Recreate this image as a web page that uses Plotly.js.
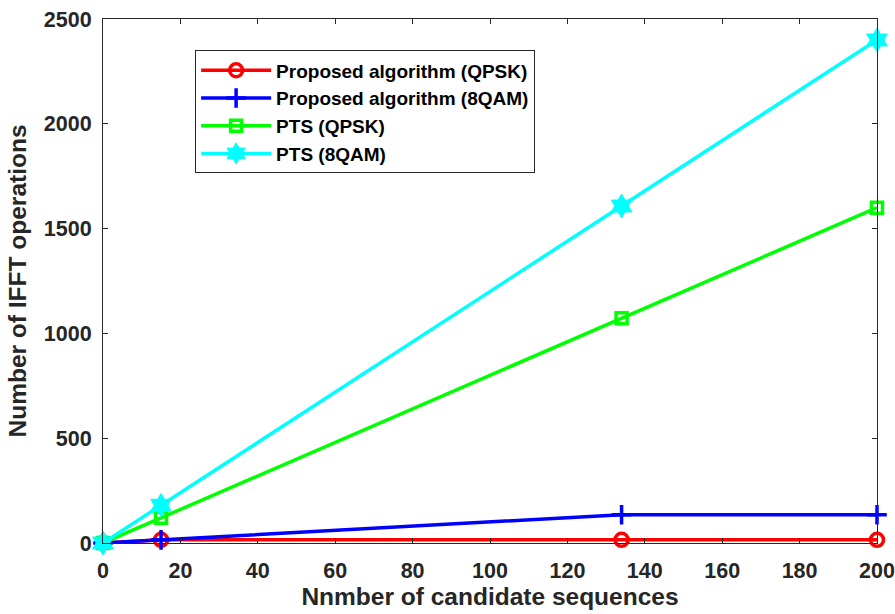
<!DOCTYPE html>
<html>
<head>
<meta charset="utf-8">
<script src="https://cdn.plot.ly/plotly-3.0.1.min.js"></script>
<style>html,body{margin:0;padding:0;background:#fff;}#chart{width:895px;height:614px;}</style>
</head>
<body>
<div id="chart"></div>
<script>
const xVals = [0, 15, 134, 200];
const propQPSK = [0, 15, 15, 15];
const prop8QAM = [0, 15, 135, 135];
const ptsQPSK = [0, 120, 1072, 1600];
const pts8QAM = [0, 180, 1608, 2400];
const seriesNames = ['Proposed algorithm (QPSK)', 'Proposed algorithm (8QAM)', 'PTS (QPSK)', 'PTS (8QAM)'];
const xTicks = [0, 20, 40, 60, 80, 100, 120, 140, 160, 180, 200];
const yTicks = [0, 500, 1000, 1500, 2000, 2500];

const font = 'Liberation Sans, Arial, sans-serif';
function tr(y, name, color, symbol, size, mlw) {
  return {
    x: xVals, y: y, name: name, type: 'scatter', mode: 'lines+markers',
    line: {color: color, width: 3.5},
    marker: {symbol: symbol, size: size, color: color, line: {color: color, width: mlw}},
    cliponaxis: false
  };
}
const data = [
  tr(propQPSK, seriesNames[0], '#ff0000', 'circle-open', 13, 3.5),
  tr(prop8QAM, seriesNames[1], '#0000ff', 'cross-thin-open', 14, 3.5),
  tr(ptsQPSK, seriesNames[2], '#00ff00', 'square-open', 11, 3.5),
  tr(pts8QAM, seriesNames[3], '#00ffff', 'hexagram', 18, 1)
];
const axisCommon = {
  showgrid: false, zeroline: false, showline: true, mirror: 'ticks',
  linecolor: '#262626', linewidth: 1, ticks: 'inside', ticklen: 5, tickcolor: '#262626',
  tickfont: {family: font, size: 21.5, color: '#262626', weight: 'bold'}
};
const titleFont = {family: font, size: 24.5, color: '#262626', weight: 'bold'};
const layout = {
  width: 895, height: 614,
  margin: {l: 103, r: 18, t: 19, b: 71},
  paper_bgcolor: '#fff', plot_bgcolor: '#fff',
  font: {family: font},
  xaxis: Object.assign({}, axisCommon, {
    range: [0, 200], tickvals: xTicks, ticktext: xTicks.map(String),
    ticklabelstandoff: 8,
    title: {text: 'Nnmber of candidate sequences', font: titleFont, standoff: 5}
  }),
  yaxis: Object.assign({}, axisCommon, {
    range: [0, 2500], tickvals: yTicks, ticktext: yTicks.map(String),
    ticklabelstandoff: 6,
    title: {text: 'Number of IFFT operations', font: titleFont, standoff: 10}
  }),
  showlegend: true,
  legend: {
    x: 0.119, y: 0.94, xanchor: 'left', yanchor: 'top',
    bgcolor: '#fff', bordercolor: '#262626', borderwidth: 1,
    font: {family: font, size: 19, color: '#000', weight: 'bold'},
    tracegroupgap: 0, itemwidth: 70
  }
};
Plotly.newPlot('chart', data, layout, {displayModeBar: false, staticPlot: true});
</script>
</body>
</html>
